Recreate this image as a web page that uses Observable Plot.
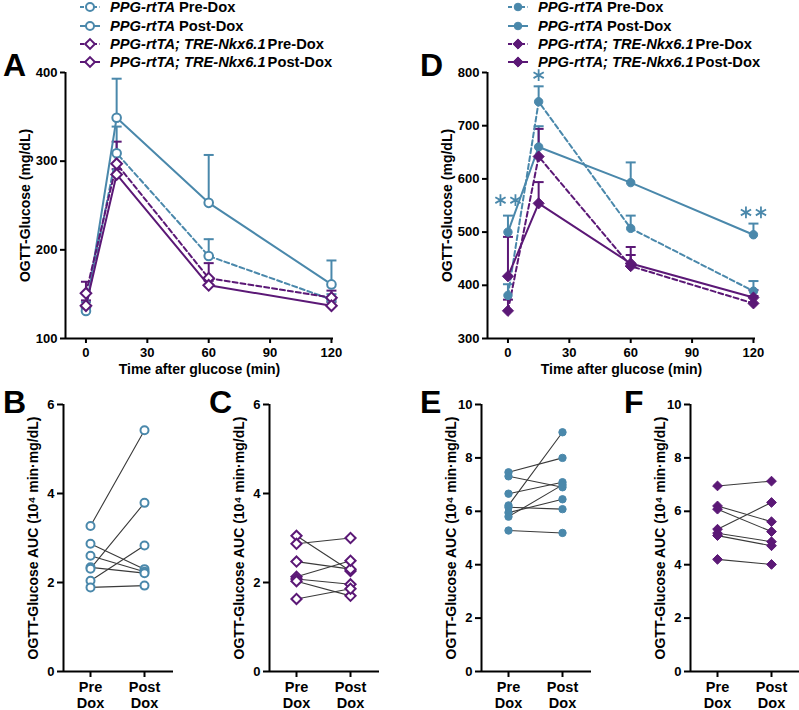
<!DOCTYPE html>
<html><head><meta charset="utf-8">
<script src="https://cdn.jsdelivr.net/npm/d3@7"></script>
<script src="https://cdn.jsdelivr.net/npm/@observablehq/plot@0.6"></script>
<style>
body{margin:0;background:#fff;font-family:"Liberation Sans",Arial,sans-serif;}
#root{position:relative;width:799px;height:710px;overflow:hidden;background:#fff;}
.panel{position:absolute;}
.letter{position:absolute;font-size:32px;font-weight:bold;line-height:1;color:#000;}
.leg{position:absolute;font-size:14.7px;font-weight:bold;white-space:nowrap;color:#000;}
.leg .row{display:flex;align-items:center;height:18.3px;}
.leg svg{margin-right:8px;}
</style></head><body><div id="root"></div>
<script>
const BLUE = "#4a88ab", PURPLE = "#5b1876";
const times = [0, 15, 60, 120];

// Panel A: mean and mean+SEM (mg/dL)
const aCtrlPre = [135, 309, 193, 144];
const aCtrlPreTop = [141, 339, 212, 150];
const aCtrlPost = [131, 349, 253, 161];
const aCtrlPostTop = [137, 393, 307, 188];
const aNkxPre = [151, 297, 168, 146];
const aNkxPreTop = [164, 322, 185, 154];
const aNkxPost = [137, 285, 160, 137];
const aNkxPostTop = [143, 291, 165, 141];

// Panel D: mean and mean+SEM (mg/dL)
const dCtrlPre = [381, 745, 507, 389];
const dCtrlPreTop = [402, 774, 531, 408];
const dCtrlPost = [500, 660, 593, 495];
const dCtrlPostTop = [531, 699, 631, 516];
const dNkxPre = [352, 642, 436, 366];
const dNkxPreTop = [373, 694, 472, 380];
const dNkxPost = [417, 554, 441, 377];
const dNkxPostTop = [491, 594, 457, 391];

// significance stars in D
const starTimes = [0, 15, 120];
const starLevels = [560, 795, 537];
const starCounts = [2, 1, 2];

// AUC panels (10^4 min·mg/dL)
const conditions = ["Pre Dox", "Post Dox"];
const bPre = [3.27, 2.87, 2.60, 2.34, 2.31, 2.04, 1.89];
const bPost = [5.42, 2.30, 2.24, 2.21, 3.79, 2.83, 1.93];
const cPre = [3.05, 2.87, 2.47, 2.13, 2.08, 2.03, 1.63];
const cPost = [2.26, 3.00, 2.30, 2.49, 1.96, 1.70, 1.86];
const ePre = [7.46, 7.31, 6.66, 6.22, 6.15, 5.95, 5.80, 5.28];
const ePost = [8.00, 6.90, 7.09, 8.96, 6.08, 6.45, 6.99, 5.19];
const fPre = [6.95, 6.20, 6.08, 5.33, 5.18, 5.09, 4.20];
const fPost = [7.13, 5.61, 5.24, 6.33, 4.86, 4.71, 4.01];

const upperTicksA = [100, 200, 300, 400];
const upperTicksD = [300, 400, 500, 600, 700, 800];
const timeTicks = [0, 30, 60, 90, 120];
const lowerTicksSmall = [0, 2, 4, 6];
const lowerTicksLarge = [0, 2, 4, 6, 8, 10];

const legendGenotypes = ["PPG-rtTA", "PPG-rtTA", "PPG-rtTA; TRE-Nkx6.1", "PPG-rtTA; TRE-Nkx6.1"];
const legendPhases = ["Pre-Dox", "Post-Dox", "Pre-Dox", "Post-Dox"];

const FONT = '"Liberation Sans", Arial, sans-serif';
const root = document.getElementById("root");
const cap = {draw(ctx, size) { const r = Math.sqrt(size / Math.PI); ctx.moveTo(-r, 0); ctx.lineTo(r, 0); }};

function rows(means, tops) { return times.map((t, i) => ({time: t, value: means[i], top: tops[i]})); }

function place(node, left, top, w) {
  const d = document.createElement("div");
  d.className = "panel"; d.style.left = left + "px"; d.style.top = top + "px"; d.style.width = w + "px";
  d.appendChild(node); root.appendChild(d);
}
const baseStyle = {fontFamily: FONT, fontSize: "13px", fontWeight: "bold", color: "#000", background: "transparent", overflow: "visible", maxWidth: "none"};

function upper(series, yDomain, yTicks, open, stars) {
  const marks = [];
  for (const s of series) {
    marks.push(Plot.ruleX(s.rows, {x: "time", y1: "value", y2: "top", stroke: s.color, strokeWidth: 2}));
    marks.push(Plot.dot(s.rows, {x: "time", y: "top", symbol: cap, r: 5, stroke: s.color, strokeWidth: 2}));
  }
  for (const s of series) {
    const o = {x: "time", y: "value", stroke: s.color, strokeWidth: 2};
    if (s.dashed) o.strokeDasharray = "5,3";
    marks.push(Plot.line(s.rows, o));
  }
  for (const s of series) {
    marks.push(Plot.dot(s.rows, {x: "time", y: "value", symbol: s.symbol, r: s.r,
      fill: open ? "white" : s.color, stroke: s.color, strokeWidth: open ? 2 : 1}));
  }
  if (stars) {
    const st = starTimes.map((t, i) => ({time: t, value: starLevels[i], n: starCounts[i]}));
    const so = {x: "time", y: "value", symbol: "asterisk", r: 5.6, stroke: BLUE, strokeWidth: 1.8};
    marks.push(Plot.dot(st.filter(d => d.n === 1), so));
    marks.push(Plot.dot(st.filter(d => d.n === 2), {...so, dx: -7.5}));
    marks.push(Plot.dot(st.filter(d => d.n === 2), {...so, dx: 7.5}));
  }
  marks.push(Plot.ruleX([-10], {strokeWidth: 2, stroke: "#000"}));
  marks.push(Plot.ruleY([yDomain[0]], {strokeWidth: 2, stroke: "#000"}));
  marks.push(Plot.axisY({ticks: yTicks, tickFormat: "d", tickSize: 5, tickPadding: 3, strokeWidth: 2, label: null}));
  marks.push(Plot.axisX({ticks: timeTicks, tickFormat: "d", tickSize: 5, tickPadding: 4, strokeWidth: 2, label: null}));
  marks.push(Plot.text(["Time after glucose (min)"], {frameAnchor: "bottom", textAnchor: "middle", lineAnchor: "middle", dy: 31, fontSize: 14, fontWeight: "bold"}));
  marks.push(Plot.text(["OGTT-Glucose (mg/dL)"], {frameAnchor: "left", textAnchor: "middle", lineAnchor: "middle", dx: -40, rotate: -90, fontSize: 14, fontWeight: "bold"}));
  return Plot.plot({
    width: 345, height: 385, marginLeft: 65, marginRight: 12, marginTop: 72, marginBottom: 47,
    x: {domain: [-10, 121], axis: null}, y: {domain: yDomain, axis: null},
    style: baseStyle, marks
  });
}

function lower(pre, post, yMax, yTicks, symbol, r, open, color) {
  const data = [];
  pre.forEach((v, i) => { data.push({mouse: i, k: 0, value: v}); data.push({mouse: i, k: 1, value: post[i]}); });
  return Plot.plot({
    width: 170, height: 360, marginLeft: 60, marginRight: 0, marginTop: 44, marginBottom: 49,
    x: {domain: [-0.5, 1.537], axis: null}, y: {domain: [0, yMax], axis: null},
    style: baseStyle,
    marks: [
      Plot.line(data, {x: "k", y: "value", z: "mouse", stroke: "#3a3a3a", strokeWidth: 1.1}),
      Plot.dot(data, {x: "k", y: "value", symbol, r, fill: open ? "white" : color, stroke: color, strokeWidth: open ? 2 : 1}),
      Plot.ruleX([-0.5], {strokeWidth: 2, stroke: "#000"}),
      Plot.ruleY([0], {strokeWidth: 2, stroke: "#000"}),
      Plot.axisY({ticks: yTicks, tickFormat: "d", tickSize: 6, tickPadding: 3, strokeWidth: 2, label: null}),
      Plot.axisX({ticks: [0, 1], tickFormat: i => conditions[i].replace(" ", "\n"), tickSize: 6, tickPadding: 3, strokeWidth: 2, label: null, fontSize: 14.5, lineHeight: 1.12}),
      Plot.text(["OGTT-Glucose AUC (10\u2074 min\u00b7mg/dL)"], {frameAnchor: "left", textAnchor: "middle", lineAnchor: "middle", dx: -30, rotate: -90, fontSize: 14, fontWeight: "bold"})
    ]
  });
}

// Upper panels
place(upper([
  {rows: rows(aCtrlPre, aCtrlPreTop), color: BLUE, dashed: true, symbol: "circle", r: 4.3},
  {rows: rows(aCtrlPost, aCtrlPostTop), color: BLUE, dashed: false, symbol: "circle", r: 4.3},
  {rows: rows(aNkxPre, aNkxPreTop), color: PURPLE, dashed: true, symbol: "diamond2", r: 4.8},
  {rows: rows(aNkxPost, aNkxPostTop), color: PURPLE, dashed: false, symbol: "diamond2", r: 4.8}
], [100, 400], upperTicksA, true, false), 0, 0, 345);

place(upper([
  {rows: rows(dCtrlPre, dCtrlPreTop), color: BLUE, dashed: true, symbol: "circle", r: 4.2},
  {rows: rows(dCtrlPost, dCtrlPostTop), color: BLUE, dashed: false, symbol: "circle", r: 4.2},
  {rows: rows(dNkxPre, dNkxPreTop), color: PURPLE, dashed: true, symbol: "diamond2", r: 5},
  {rows: rows(dNkxPost, dNkxPostTop), color: PURPLE, dashed: false, symbol: "diamond2", r: 5}
], [300, 800], upperTicksD, false, true), 422, 0, 345);

// Lower panels
place(lower(bPre, bPost, 6, lowerTicksSmall, "circle", 4, true, BLUE), 3, 360, 170);
place(lower(cPre, cPost, 6, lowerTicksSmall, "diamond2", 4.6, true, PURPLE), 209, 360, 170);
place(lower(ePre, ePost, 10, lowerTicksLarge, "circle", 3.7, false, BLUE), 421, 360, 170);
place(lower(fPre, fPost, 10, lowerTicksLarge, "diamond2", 4.4, false, PURPLE), 630, 360, 170);

// Legends
function legend(left, open) {
  const box = document.createElement("div");
  box.className = "leg"; box.style.left = left + "px"; box.style.top = "-1.8px";
  legendGenotypes.forEach((g, i) => {
    const row = document.createElement("div"); row.className = "row";
    const color = i < 2 ? BLUE : PURPLE;
    const svg = d3.create("svg").attr("width", 24).attr("height", 14);
    svg.append("line").attr("x1", 2).attr("x2", 22).attr("y1", 7).attr("y2", 7)
      .attr("stroke", color).attr("stroke-width", 2).attr("stroke-dasharray", i % 2 === 0 ? "4,2.5" : null);
    const sym = i < 2 ? d3.symbolCircle : d3.symbolDiamond2;
    const rr = i < 2 ? (open ? 4 : 3.8) : (open ? 4.4 : 4.6);
    svg.append("path").attr("d", d3.symbol(sym, Math.PI * rr * rr)()).attr("transform", "translate(12,7)")
      .attr("fill", open ? "white" : color).attr("stroke", color).attr("stroke-width", open ? 2 : 1);
    row.appendChild(svg.node());
    const it = document.createElement("i"); it.textContent = g; row.appendChild(it);
    const sp = document.createElement("span"); sp.textContent = legendPhases[i];
    sp.style.marginLeft = i < 2 ? "4px" : "2px"; row.appendChild(sp);
    box.appendChild(row);
  });
  root.appendChild(box);
}
legend(78, true);
legend(506, false);

// Panel letters
[["A", 3, 49], ["D", 420, 49], ["B", 3, 386], ["C", 209, 386], ["E", 420, 386], ["F", 624, 386]].forEach(([t, x, y]) => {
  const d = document.createElement("div"); d.className = "letter";
  d.style.left = x + "px"; d.style.top = y + "px"; d.textContent = t; root.appendChild(d);
});
</script></body></html>
